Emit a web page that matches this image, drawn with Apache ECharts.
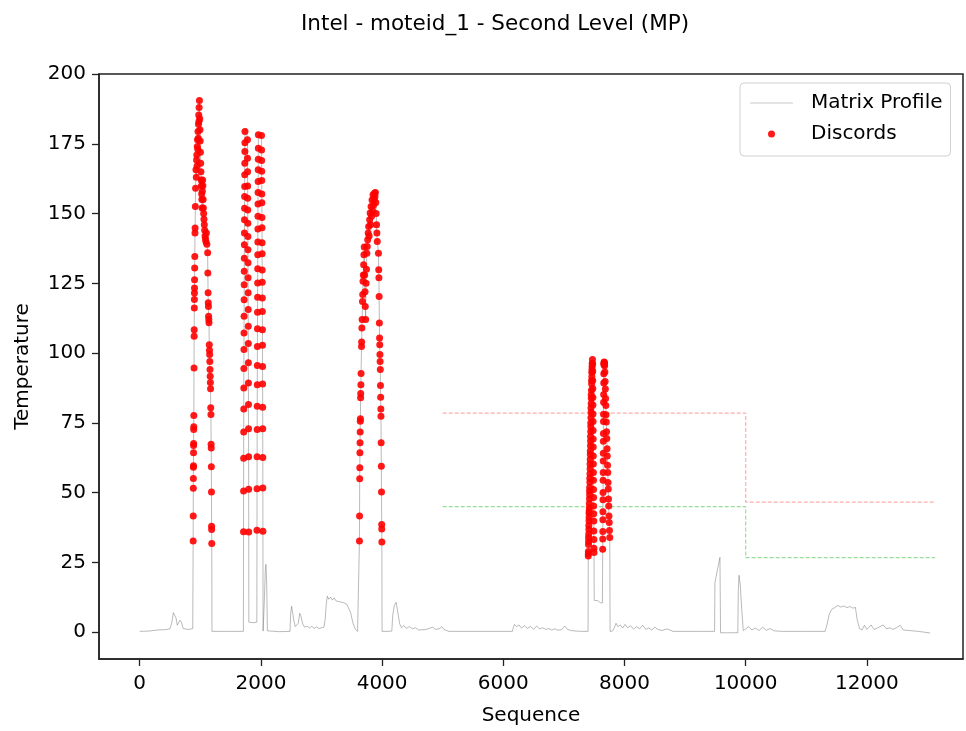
<!DOCTYPE html>
<html>
<head>
<meta charset="utf-8">
<title>Intel - moteid_1 - Second Level (MP)</title>
<script src="https://cdn.jsdelivr.net/npm/echarts@6/dist/echarts.min.js"></script>
<style>
  html, body { margin: 0; padding: 0; background: #fff; }
  #chart { width: 966px; height: 731px; }
</style>
</head>
<body>
<div id="chart"></div>
<script>
// axis ticks
const xTicks = [0, 2000, 4000, 6000, 8000, 10000, 12000];
const yTicks = [0, 25, 50, 75, 100, 125, 150, 175, 200];

// matrix profile away from the discord points (sequence index / value)
const mpX = [
  0, 150, 300, 420, 500, 530, 555, 580, 600, 620, 645, 665, 690, 715, 760, 820, 875, 880,
  1192, 1450, 1711,
  1758,
  1801, 1870, 1933,
  1985,
  2036, 2045, 2058, 2072, 2083, 2096, 2107, 2112, 2300, 2480, 2490, 2506, 2525, 2545, 2567,
  2590, 2617, 2640, 2660, 2690, 2720, 2760, 2800, 2840, 2880, 2920, 2960, 3000, 3040, 3060,
  3080, 3096, 3120, 3150, 3180, 3210, 3240, 3270, 3300, 3330, 3360, 3390, 3420, 3445, 3480,
  3520, 3560, 3595, 3622,
  3999, 4100, 4160, 4175, 4200, 4231, 4260, 4290, 4320, 4360, 4400, 4450, 4500, 4550, 4600,
  4700, 4760, 4835, 4880, 4950, 4985, 5020, 5100, 5600, 6150, 6170, 6185, 6220, 6260, 6300,
  6350, 6400, 6450, 6500, 6550, 6600, 6650, 6700, 6750, 6800, 6850, 6900, 6960, 7014, 7060,
  7120, 7200, 7300, 7399,
  7500, 7530, 7560, 7600, 7636,
  7762, 7800, 7830, 7860, 7890, 7930, 7970, 8010, 8050, 8100, 8150, 8200, 8250, 8300, 8350,
  8400, 8450, 8500, 8550, 8620, 8700, 8800, 9200, 9486, 9492, 9530, 9575, 9585, 9700, 9870,
  9878, 9890, 9910, 9935, 9960, 10000, 10050, 10100, 10160, 10220, 10280, 10340, 10400, 10470,
  10600, 11000, 11310, 11340, 11380, 11420, 11470, 11520, 11570, 11620, 11670, 11720, 11770,
  11810, 11840, 11880, 11920, 11960, 12000, 12070, 12120, 12180, 12270, 12320, 12380, 12430,
  12480, 12550, 12600, 12700, 12850, 12950, 13045
];
const mpY = [
  0.3, 0.4, 0.8, 0.9, 1.2, 3.5, 7.0, 7.3, 5.0, 2.5, 2.2, 4.3, 3.5, 1.4, 1.1, 1.0, 1.3, 1.5,
  0.3, 0.3, 0.3,
  180.5,
  3.6, 3.4, 3.6,
  178.8,
  0.4, 0.5, 12, 22, 24.3, 17, 0.5, 0.2, 0.2, 0.3, 6.5, 9.3, 8.8, 4.0, 2.0,
  2.5, 3.2, 6.8, 5.8, 3.0, 1.8, 2.2, 1.5, 2.1, 1.4, 1.9, 1.3, 1.6, 1.8, 4.5,
  10.5, 12.9, 11.8, 12.6, 11.5, 12.3, 11.2, 11.9, 10.9, 11.4, 10.6, 11.0, 9.9, 10.3, 7.0,
  3.2, 1.0, 0.3, 0.3,
  0.3, 0.3, 0.4, 6, 9.5, 10.7, 7, 3.0, 1.6, 2.4, 1.4, 2.0, 1.2, 1.6, 0.8,
  0.9, 1.2, 1.8, 1.0, 1.3, 2.0, 1.0, 0.3, 0.3, 0.3, 2.0, 2.8, 2.0, 2.6, 1.5,
  2.3, 1.4, 2.1, 1.0, 2.2, 1.2, 1.6, 1.0, 1.3, 0.8, 1.2, 0.7, 0.9, 2.2, 1.0,
  0.6, 0.4, 0.3, 0.3,
  11.4, 11.0, 11.3, 10.6, 10.5,
  0.3, 0.4, 1.5, 3.2, 2.0, 2.6, 1.5, 2.8, 1.6, 2.3, 1.1, 2.0, 1.2, 2.5, 1.0,
  1.5, 0.8, 1.8, 1.0, 0.6, 1.2, 0.3, 0.3, 0.3, 17.7, 22, 26.8, -0.2, -0.2, -0.2,
  15, 20.4, 17, 8, 0.6, 1.2, 2.0, 0.8, 1.5, 0.6, 1.8, 0.7, 1.3, 0.5,
  0.3, 0.3, 0.3, 2.5, 6.5, 8.2, 8.8, 9.6, 9.0, 9.4, 8.8, 9.2, 8.6,
  8.9, 4.5, 1.2, 0.8, 2.5, 1.0, 2.6, 1.0, 1.6, 2.6, 1.2, 1.6, 1.0,
  1.5, 2.5, 0.8, 0.6, 0.3, 0.0, -0.3
];

// discord points (they sit on the matrix profile)
const discordX = [
  // first spike
  882, 883, 884, 885, 886, 887, 888, 889, 890, 891, 892, 893, 896, 898, 899, 901, 902, 903, 904, 905,
  907, 909, 912, 914, 918, 922,
  928, 934, 938, 942, 946, 950, 954, 958, 962, 966, 970, 974, 977, 980, 985, 990, 994, 998, 1002, 1006,
  1010, 1014, 1018, 1022, 1026, 1030, 1034, 1038, 1042, 1046, 1050, 1055, 1060, 1066, 1072, 1078, 1085,
  1092, 1100, 1108,
  1121, 1124, 1128, 1131, 1134, 1137, 1140, 1143, 1148, 1151, 1154, 1157, 1160, 1163, 1166, 1169, 1172,
  1175, 1178, 1180, 1182, 1184, 1186, 1187, 1189,
  // second spike
  1713, 1714, 1715, 1716, 1717, 1718, 1719, 1720, 1721, 1722, 1723, 1724, 1725, 1726, 1727, 1728, 1729,
  1730, 1731, 1732, 1733, 1734, 1735, 1736, 1737,
  1778, 1779, 1780, 1781, 1782, 1783, 1784, 1785, 1786, 1787, 1788, 1789, 1790, 1791, 1792, 1793, 1794,
  1795, 1796, 1797, 1798, 1799,
  // third spike
  1935, 1936, 1937, 1938, 1939, 1940, 1941, 1942, 1943, 1944, 1945, 1946, 1947, 1948, 1949, 1950, 1951,
  1952, 1953, 1954, 1955, 1956, 1957, 1958,
  2010, 2011, 2012, 2013, 2014, 2015, 2016, 2017, 2018, 2019, 2020, 2021, 2022, 2023, 2024, 2025, 2026,
  2027, 2028, 2029, 2030, 2031, 2032, 2033,
  // fourth spike
  3626, 3628, 3630, 3632, 3634, 3636, 3638, 3640, 3642, 3645, 3647, 3650, 3653, 3660, 3662, 3666, 3670,
  3676, 3680, 3685, 3690, 3695, 3700,
  3705, 3712, 3718, 3722, 3728, 3735, 3742, 3748, 3755, 3762, 3770, 3778, 3786, 3794, 3802, 3810, 3818,
  3826, 3834, 3842, 3850, 3858, 3866, 3874, 3882, 3889, 3896, 3902, 3908, 3914, 3920,
  3940, 3944, 3947, 3951, 3955, 3958, 3961, 3964, 3967, 3970, 3973, 3976, 3979, 3981, 3984, 3987, 3990,
  3993, 3994, 3996,
  // fifth spike (double)
  7402, 7403, 7404, 7406, 7407, 7408, 7410, 7411, 7412, 7414, 7415, 7416, 7418, 7419, 7420, 7422, 7423,
  7424, 7426, 7427, 7428, 7430, 7431, 7432, 7434, 7435, 7436, 7438, 7439, 7440, 7442, 7443, 7444, 7446,
  7447, 7448, 7450, 7451, 7452, 7455, 7456, 7458, 7460, 7461, 7464, 7465, 7467, 7471,
  7474, 7475, 7476, 7477, 7478, 7479, 7480, 7481, 7482, 7483, 7484, 7485, 7486, 7487, 7488, 7489, 7490,
  7491, 7492, 7493, 7494, 7495, 7496, 7497,
  7640, 7641, 7642, 7643, 7644, 7645, 7646, 7647, 7648, 7649, 7650, 7651, 7652, 7653, 7654, 7655, 7656,
  7657, 7658, 7659, 7661, 7664, 7667, 7669,
  7672, 7676, 7680, 7684, 7688, 7692, 7696, 7700, 7704, 7708, 7712, 7716, 7720, 7724, 7728, 7732, 7736,
  7740, 7744, 7748, 7752, 7757
];
const discordY = [
  32.7, 41.6, 51.6, 55.1, 59.1, 59.6, 64.3, 66.9, 67.6, 72.6, 73.6, 77.6, 94.7, 106, 108.4, 116.2, 119.2,
  121.5, 123.3, 126.3, 130.5, 134.6, 143, 144.8, 152.5, 159.1,
  165.7, 163, 169.2, 171, 167, 174, 176.4, 173, 179.4, 177, 182, 185.3, 183, 188, 190.5, 184, 180, 176,
  172, 168, 165, 162, 160, 157, 155, 152, 158, 162, 160, 155, 152, 150, 148, 146, 144, 142, 141, 140,
  143, 139,
  136, 128.7, 121.6, 118, 116.7, 113.2, 112, 110.9, 103, 101, 99.5, 97, 94.1, 91.7, 89.5, 87.2, 80.4,
  78, 67.3, 66, 59.3, 50.2, 38, 36.8, 31.8,

  36, 50.6, 62.3, 71.7, 80, 87.5, 94.5, 101.3, 107.2, 113.2, 119.1, 124.5, 129.3, 134, 138.8, 143,
  147.8, 151.9, 156.1, 159.7, 163.9, 168, 172.2, 175.4, 179.4,
  176.4, 169.8, 165, 159.9, 155.5, 151.3, 146.5, 141.8, 137, 132.4, 127, 121.6, 115.6, 109.6, 103.4,
  96.5, 89.3, 81.6, 72.9, 62.9, 51.2, 35.9,

  36.5, 51.4, 62.9, 72.6, 81, 88.7, 95.6, 102.4, 108.7, 114.6, 120, 125.1, 130.2, 135.2, 139.8, 144.5,
  149, 153.4, 157.5, 161.5, 165.7, 169.5, 173.4, 178.2,
  178, 172.8, 169, 165.2, 161.8, 157, 153.9, 148.6, 144.9, 139.5, 135.6, 129.8, 125.4, 119.7, 114.9,
  108.4, 102.8, 95.2, 88.9, 80.6, 72.9, 62.6, 51.7, 36.2,

  32.7, 41.6, 55, 58.9, 64.3, 67.9, 71.7, 75.6, 76.5, 84, 85.5, 88.7, 92.7, 102.4, 104, 109, 112, 118.5,
  121, 125.7, 128, 131.7, 135.2,
  138, 128, 122, 116.7, 112, 125, 130, 135.8, 138.2, 140.6, 143, 145.4, 142, 147.8, 150.2, 146, 152.5,
  149, 154.9, 151, 156.7, 153, 155, 157.3, 156, 157.5, 154, 150, 146, 143, 140,
  135.8, 129.9, 127, 120.3, 110.8, 105.4, 103, 99.5, 97, 94.1, 88.4, 84.2, 80, 77.4, 67.9, 59.5, 50.2,
  38.6, 37, 32.3,

  27.3, 28.1, 28.9, 31.4, 33.9, 32.6, 35.2, 38.2, 36.8, 39.9, 42.6, 41.2, 43.5, 46.1, 44.6, 47.8, 50.7,
  49.3, 51.9, 55.2, 53.7, 56.8, 60.3, 58.6, 61.9, 64.9, 63.7, 66.8, 70.1, 68.5, 71.9, 75.0, 73.6, 76.8,
  80.3, 78.7, 81.9, 85.1, 83.8, 86.7, 90.2, 88.9, 93.1, 91.6, 94.2, 95.3, 96.4, 97.7,
  96.1, 93.4, 90.2, 87.3, 84.1, 81.4, 78.2, 75.5, 72.3, 69.2, 66.4, 63.1, 60.3, 57.2, 54.4, 51.1, 48.3,
  45.2, 42.4, 39.8, 36.3, 33.2, 30.1, 28.6,
  29.7, 33.4, 36.1, 40.3, 43.2, 47.5, 50.1, 54.4, 57.2, 61.3, 64.1, 68.4, 71.2, 75.5, 78.1, 82.4, 85.2,
  89.3, 92.6, 95.9, 96.4, 96.8, 96.6, 96.2,
  95.5, 93.2, 89.8, 87.1, 83.7, 81.2, 77.9, 75.3, 71.8, 69.4, 65.7, 63.1, 59.8, 57.2, 53.6, 51.3, 47.7,
  45.2, 41.6, 39.3, 36.4, 33.9
];

// dashed threshold steps
const thrX = [5000, 10000, 10000, 13127];
const redThr = [78.5, 78.5, 46.6, 46.6];
const greenThr = [45.0, 45.0, 26.7, 26.7];

const zip = (xs, ys) => xs.map((x, i) => [x, ys[i]]);
const discords = zip(discordX, discordY);
// the profile passes through the discord points too
const mpLine = zip(mpX, mpY).concat(discords).sort((a, b) => a[0] - b[0]);

const FONT = "DejaVu Sans";
const MP_COLOR = "rgba(110,110,110,0.6)";
const chart = echarts.init(document.getElementById("chart"));

chart.setOption({
  animation: false,
  backgroundColor: "#fff",
  title: {
    text: "Intel - moteid_1 - Second Level (MP)",
    left: 296,
    top: 8,
    textStyle: { fontFamily: FONT, fontSize: 21.5, fontWeight: "normal", color: "#000" },
  },
  grid: {
    left: 99, right: 3, top: 74, bottom: 71,
    show: true, borderColor: "#222", borderWidth: 1.5, backgroundColor: "transparent",
  },
  legend: {
    orient: "vertical",
    left: 740,
    top: 83,
    itemWidth: 43,
    itemHeight: 7,
    itemGap: 11,
    padding: [10, 8, 12, 10],
    backgroundColor: "#fff",
    borderColor: "#d0d0d0",
    borderWidth: 1,
    borderRadius: 4,
    textStyle: { fontFamily: FONT, fontSize: 20, color: "#000", padding: [0, 0, 0, 13] },
    data: [
      { name: "Matrix Profile", icon: "path://M0,0h43v1h-43z", itemStyle: { color: "rgba(150,150,150,0.5)" } },
      { name: "Discords", icon: "circle" },
    ],
  },
  xAxis: {
    type: "value",
    min: -672,
    max: 13586,
    name: "Sequence",
    nameLocation: "middle",
    nameGap: 47,
    nameTextStyle: { fontFamily: FONT, fontSize: 20, color: "#000" },
    axisLine: { onZero: false, lineStyle: { color: "#222", width: 1.5 } },
    axisTick: { customValues: xTicks, length: 7, lineStyle: { color: "#222", width: 1.3 } },
    axisLabel: {
      customValues: xTicks, margin: 15, fontFamily: FONT, fontSize: 20, color: "#000",
      formatter: (v) => String(v),
    },
    splitLine: { show: false },
  },
  yAxis: {
    type: "value",
    min: -9.6,
    max: 200,
    name: "Temperature",
    nameLocation: "middle",
    nameGap: 66,
    nameTextStyle: { fontFamily: FONT, fontSize: 20, color: "#000" },
    axisLine: { show: true, onZero: false, lineStyle: { color: "#222", width: 1.5 } },
    axisTick: { show: true, customValues: yTicks, length: 7, lineStyle: { color: "#222", width: 1.3 } },
    axisLabel: {
      customValues: yTicks, margin: 13, fontFamily: FONT, fontSize: 20, color: "#000",
      formatter: (v) => String(v),
    },
    splitLine: { show: false },
  },
  series: [
    {
      name: "Matrix Profile",
      type: "line",
      data: mpLine,
      symbol: "none",
      lineStyle: { color: MP_COLOR, width: 0.8 },
      itemStyle: { color: MP_COLOR },
      z: 2,
    },
    {
      name: "red threshold",
      type: "line",
      data: zip(thrX, redThr),
      symbol: "none",
      lineStyle: { color: "rgba(255,0,0,0.32)", width: 1.2, type: [4, 2] },
      z: 1,
    },
    {
      name: "green threshold",
      type: "line",
      data: zip(thrX, greenThr),
      symbol: "none",
      lineStyle: { color: "rgba(0,170,0,0.4)", width: 1.2, type: [4, 2] },
      z: 1,
    },
    {
      name: "Discords",
      type: "scatter",
      data: discords,
      symbol: "circle",
      symbolSize: 7,
      itemStyle: { color: "#ff0000", opacity: 0.9 },
      z: 3,
    },
  ],
});
</script>
</body>
</html>
